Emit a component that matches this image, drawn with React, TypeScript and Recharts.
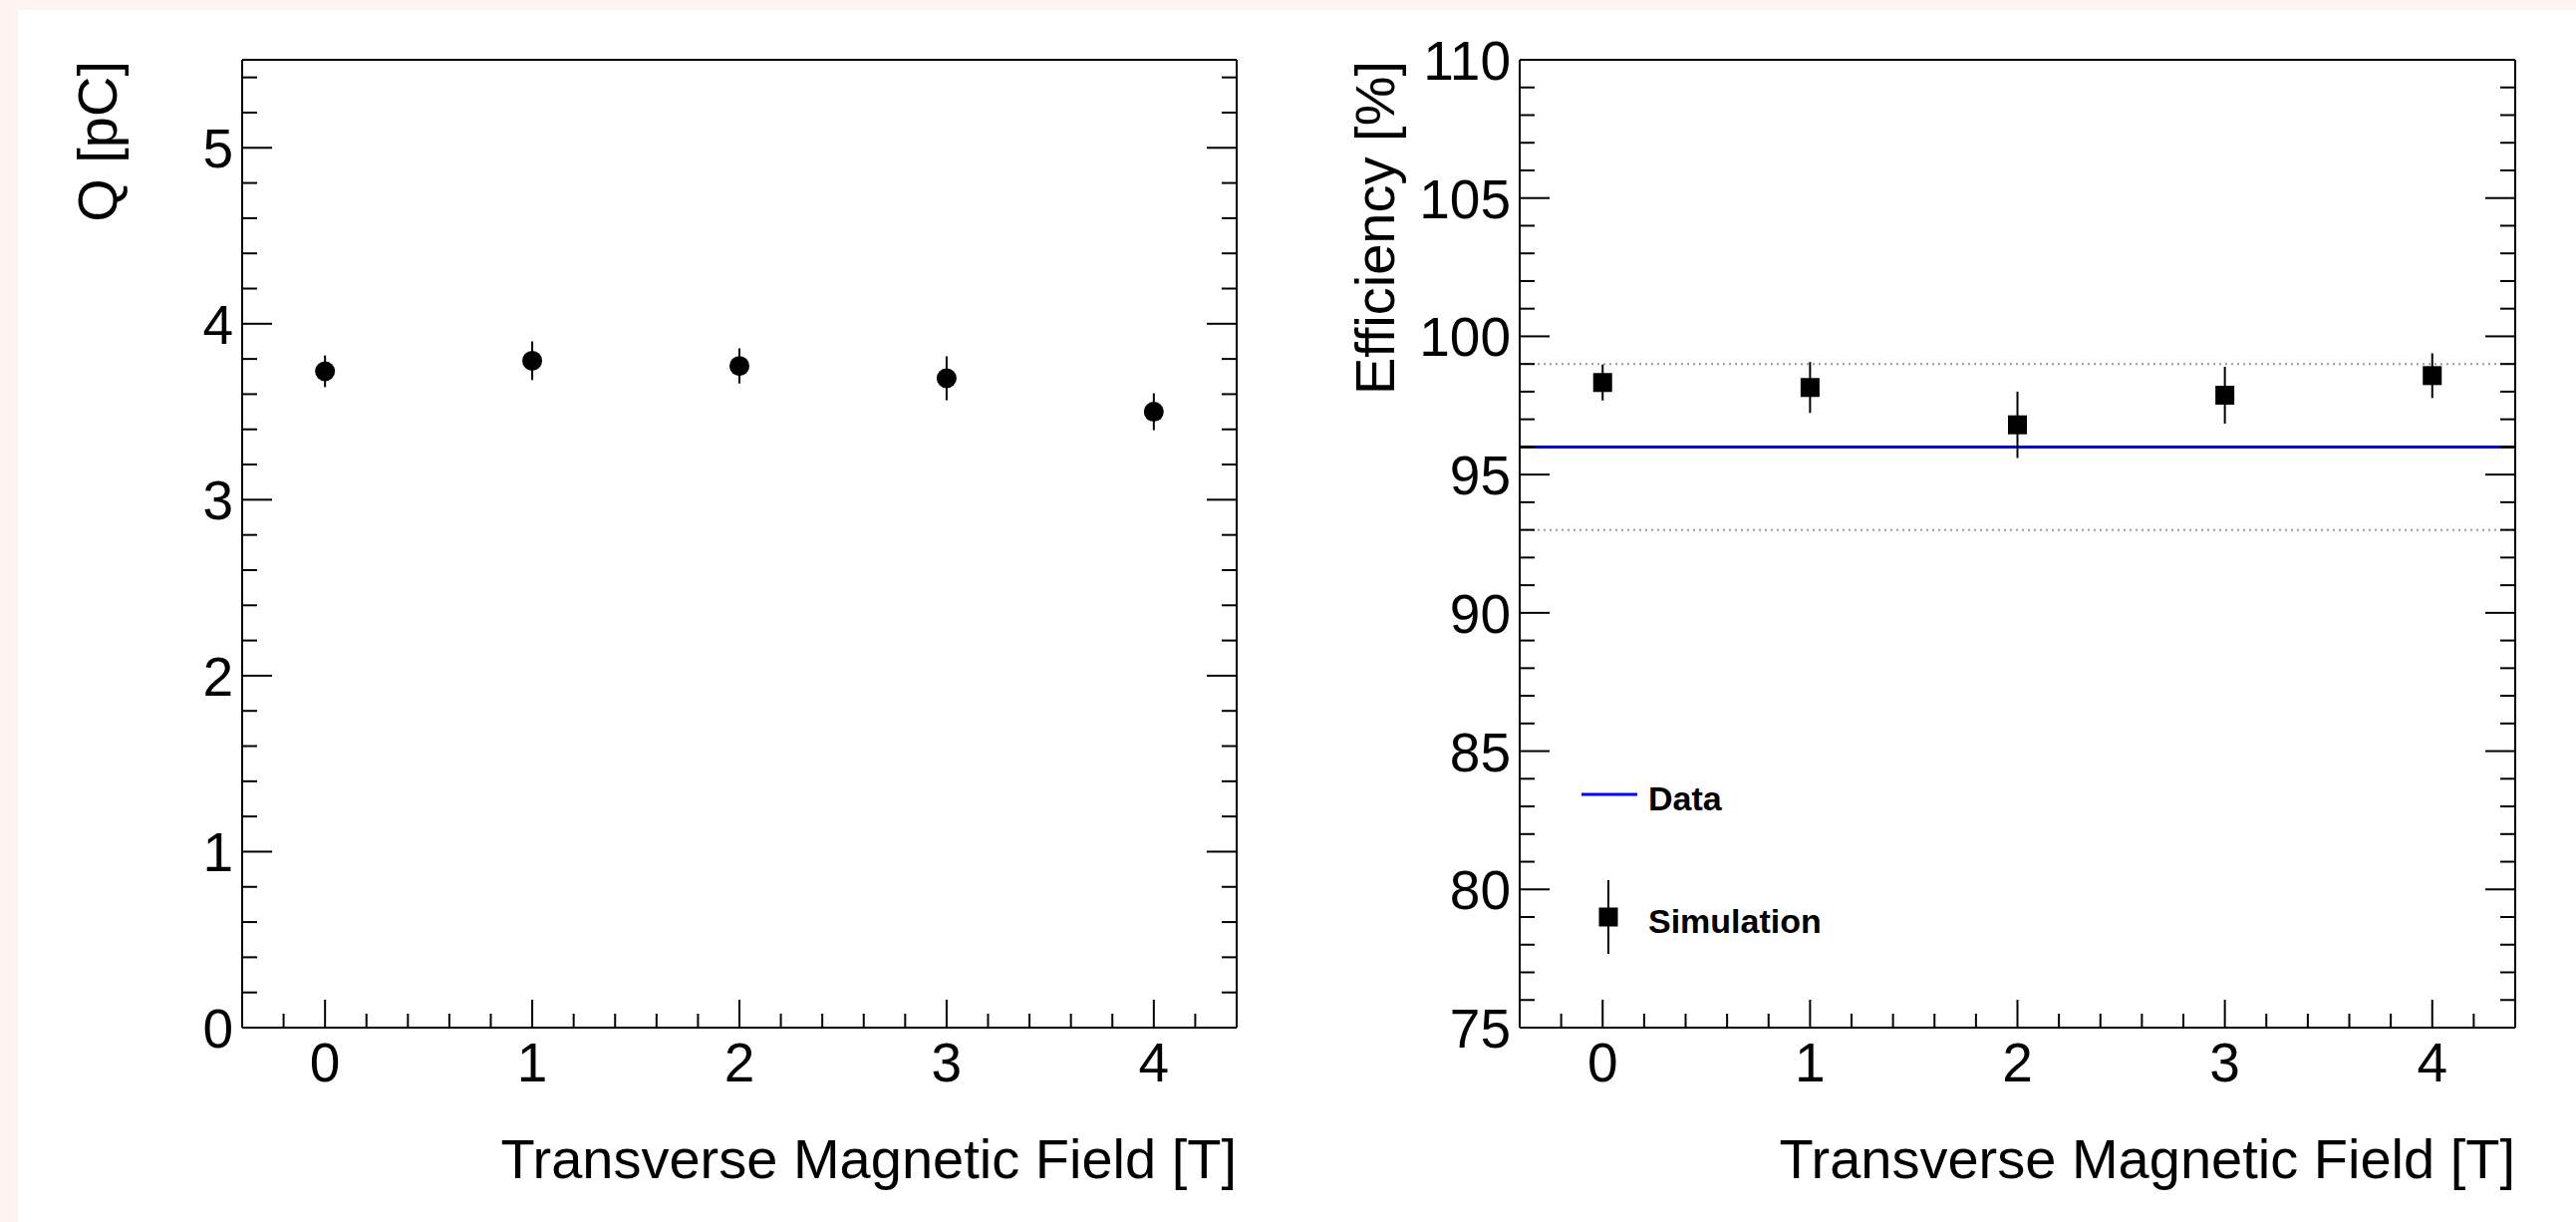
import React from 'react';
import {
  ComposedChart,
  ErrorBar,
  Legend,
  ReferenceLine,
  Scatter,
  XAxis,
  YAxis,
} from 'recharts';

// field values (T)
const fieldValues = [0, 1, 2, 3, 4];

// left panel: collected charge
const chargeValues = [3.73, 3.79, 3.76, 3.69, 3.5];
const chargeErrors = [0.09, 0.11, 0.1, 0.125, 0.105];

// right panel: efficiency
const simEfficiency = [98.33, 98.15, 96.8, 97.87, 98.58];
const simErrors = [0.65, 0.92, 1.2, 1.03, 0.81];
const dataEfficiency = 96;
const dataBand = [93, 99];

const fieldTicks = [0, 1, 2, 3, 4];
const fieldMinorTicks = [
  -0.2, 0.2, 0.4, 0.6, 0.8, 1.2, 1.4, 1.6, 1.8, 2.2, 2.4, 2.6, 2.8, 3.2, 3.4, 3.6, 3.8, 4.2,
];
const chargeTicks = [0, 1, 2, 3, 4, 5];
const chargeMinorTicks = [
  0.2, 0.4, 0.6, 0.8, 1.2, 1.4, 1.6, 1.8, 2.2, 2.4, 2.6, 2.8, 3.2, 3.4, 3.6, 3.8, 4.2, 4.4, 4.6,
  4.8, 5.2, 5.4,
];
const effTicks = [75, 80, 85, 90, 95, 100, 105, 110];
const effMinorTicks = [
  76, 77, 78, 79, 81, 82, 83, 84, 86, 87, 88, 89, 91, 92, 93, 94, 96, 97, 98, 99, 101, 102, 103,
  104, 106, 107, 108, 109,
];

const legendItems = [
  { label: 'Data', kind: 'line' },
  { label: 'Simulation', kind: 'marker' },
];

const FONT = '"Liberation Sans", Arial, Helvetica, sans-serif';
const axisStyle = { stroke: '#000', strokeWidth: 2 };

const chargeRows = fieldValues.map((x, i) => ({ x, y: chargeValues[i], err: chargeErrors[i] }));
const effRows = fieldValues.map((x, i) => ({ x, y: simEfficiency[i], err: simErrors[i] }));

const isMajor = (v: number, majors: number[]) => majors.some((m) => Math.abs(m - v) < 1e-6);
const allTicks = (a: number[], b: number[]) => [...a, ...b].sort((p, q) => p - q);

type Side = 'bottom' | 'top' | 'left' | 'right';

// ROOT style: ticks point into the frame, labels only on bottom/left
function makeTick(side: Side, majors: number[], showLabel: boolean) {
  return (props: any) => {
    const { x, y, payload } = props;
    const v = payload.value;
    const major = isMajor(v, majors);
    const horiz = side === 'bottom' || side === 'top';
    const len = horiz ? (major ? 28 : 14) : major ? 30 : 15;
    let line;
    if (side === 'bottom') line = <line x1={x} x2={x} y1={y} y2={y - len} />;
    else if (side === 'top') line = <line x1={x} x2={x} y1={y} y2={y + len} />;
    else if (side === 'left') line = <line x1={x} x2={x + len} y1={y} y2={y} />;
    else line = <line x1={x} x2={x - len} y1={y} y2={y} />;
    let label = null;
    if (showLabel && major) {
      if (side === 'bottom') {
        label = (
          <text x={x} y={y + 54} textAnchor="middle" fontSize={55} fontFamily={FONT} fill="#000">
            {v}
          </text>
        );
      } else {
        label = (
          <text x={x - 9} y={y + 20} textAnchor="end" fontSize={55} fontFamily={FONT} fill="#000">
            {v}
          </text>
        );
      }
    }
    return (
      <g>
        <g stroke="#000" strokeWidth={2}>{line}</g>
        {label}
      </g>
    );
  };
}

const xTitle = (text: string) => (p: any) => {
  const vb = p.viewBox;
  return (
    <text x={vb.x + vb.width} y={vb.y + 151} textAnchor="end" fontSize={56} fontFamily={FONT} fill="#000">
      {text}
    </text>
  );
};

const yTitle = (text: string) => (p: any) => {
  const vb = p.viewBox;
  const tx = vb.x + vb.width - 126;
  const ty = vb.y + 1;
  return (
    <text
      transform={`translate(${tx},${ty}) rotate(-90)`}
      textAnchor="end"
      fontSize={56}
      fontFamily={FONT}
      fill="#000"
    >
      {text}
    </text>
  );
};

const circleShape = (p: any) => <circle cx={p.cx} cy={p.cy} r={10} fill="#000" />;
const squareShape = (p: any) => <rect x={p.cx - 9.5} y={p.cy - 9.5} width={19} height={19} fill="#000" />;

const renderLegend = () => (
  <svg width={400} height={220} style={{ overflow: 'visible' }}>
    {legendItems.map((item, i) => {
      const cy = i === 0 ? 27 : 150;
      return (
        <g key={item.label}>
          {item.kind === 'line' ? (
            <line x1={17} x2={73} y1={cy} y2={cy} stroke="#0000ff" strokeWidth={3} />
          ) : (
            <g>
              <line x1={44} x2={44} y1={cy - 37} y2={cy + 37} stroke="#000" strokeWidth={2} />
              <rect x={34.5} y={cy - 9.5} width={19} height={19} fill="#000" />
            </g>
          )}
          <text x={84} y={cy + 16} fontSize={34} fontWeight="bold" fontFamily={FONT} fill="#000">
            {item.label}
          </text>
        </g>
      );
    })}
  </svg>
);

type PanelProps = {
  width: number;
  margin: { top: number; right: number; bottom: number; left: number };
  yDomain: [number, number];
  yAll: number[];
  yMajor: number[];
  yLabel: string;
  children: React.ReactNode;
};

// frame with four axes; the axes are 1px thick so recharts draws them
function Panel({ width, margin, yDomain, yAll, yMajor, yLabel, children }: PanelProps) {
  const xAll = allTicks(fieldTicks, fieldMinorTicks);
  return (
    <ComposedChart width={width} height={1226} margin={margin}>
      <XAxis
        xAxisId="b"
        dataKey="x"
        type="number"
        domain={[-0.4, 4.4]}
        allowDataOverflow
        ticks={xAll}
        interval={0}
        tickSize={0}
        tickMargin={0}
        tickLine={false}
        axisLine={axisStyle}
        tick={makeTick('bottom', fieldTicks, true)}
        height={1}
        label={xTitle('Transverse Magnetic Field [T]')}
      />
      <XAxis
        xAxisId="t"
        orientation="top"
        type="number"
        domain={[-0.4, 4.4]}
        allowDataOverflow
        ticks={xAll}
        interval={0}
        tickSize={0}
        tickMargin={0}
        tickLine={false}
        axisLine={axisStyle}
        tick={makeTick('top', fieldTicks, false)}
        height={1}
      />
      <YAxis
        yAxisId="l"
        dataKey="y"
        type="number"
        domain={yDomain}
        allowDataOverflow
        ticks={yAll}
        interval={0}
        tickSize={0}
        tickMargin={0}
        tickLine={false}
        axisLine={axisStyle}
        tick={makeTick('left', yMajor, true)}
        width={1}
        label={yTitle(yLabel)}
      />
      <YAxis
        yAxisId="r"
        orientation="right"
        type="number"
        domain={yDomain}
        allowDataOverflow
        ticks={yAll}
        interval={0}
        tickSize={0}
        tickMargin={0}
        tickLine={false}
        axisLine={axisStyle}
        tick={makeTick('right', yMajor, false)}
        width={1}
      />
      {children}
    </ComposedChart>
  );
}

export default function App() {
  const qAll = allTicks(chargeTicks, chargeMinorTicks);
  const eAll = allTicks(effTicks, effMinorTicks);

  return (
    <div
      style={{
        position: 'absolute',
        left: 0,
        top: 0,
        width: 2585,
        height: 1226,
        background: '#fef3f0',
        overflow: 'hidden',
      }}
    >
      <div
        style={{ position: 'absolute', left: 18, top: 10, width: 2567, height: 1216, background: '#fff' }}
      />
      <div style={{ position: 'absolute', left: 0, top: 0 }}>
        <Panel
          width={1290}
          margin={{ top: 59, right: 48, bottom: 194, left: 242 }}
          yDomain={[0, 5.5]}
          yAll={qAll}
          yMajor={chargeTicks}
          yLabel="Q [pC]"
        >
          <Scatter
            xAxisId="b"
            yAxisId="l"
            data={chargeRows}
            dataKey="y"
            shape={circleShape}
            isAnimationActive={false}
          >
            <ErrorBar dataKey="err" direction="y" width={0} stroke="#000" strokeWidth={2} isAnimationActive={false} />
          </Scatter>
        </Panel>
      </div>
      <div style={{ position: 'absolute', left: 1290, top: 0 }}>
        <Panel
          width={1295}
          margin={{ top: 59, right: 60, bottom: 194, left: 234 }}
          yDomain={[75, 110]}
          yAll={eAll}
          yMajor={effTicks}
          yLabel="Efficiency [%]"
        >
          {dataBand.map((v) => (
            <ReferenceLine
              key={v}
              xAxisId="b"
              yAxisId="l"
              y={v}
              stroke="#9a9a9a"
              strokeWidth={2}
              strokeDasharray="2 4"
            />
          ))}
          <ReferenceLine xAxisId="b" yAxisId="l" y={dataEfficiency} stroke="#0000ff" strokeWidth={3} />
          <Scatter
            xAxisId="b"
            yAxisId="l"
            data={effRows}
            dataKey="y"
            shape={squareShape}
            isAnimationActive={false}
          >
            <ErrorBar dataKey="err" direction="y" width={0} stroke="#000" strokeWidth={2} isAnimationActive={false} />
          </Scatter>
          <Legend
            content={renderLegend}
            layout="horizontal"
            verticalAlign="middle"
            align="center"
            wrapperStyle={{ left: 280, top: 770, width: 400, height: 220 }}
          />
        </Panel>
      </div>
    </div>
  );
}
